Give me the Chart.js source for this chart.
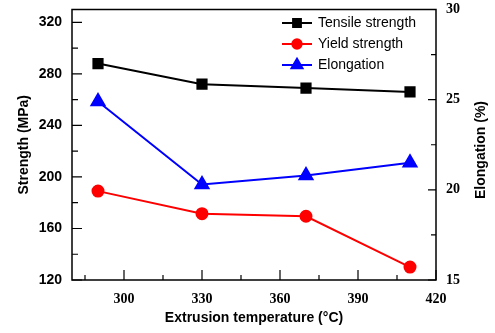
<html lang="en">
<head>
<meta charset="UTF-8">
<script src="https://cdn.jsdelivr.net/npm/chart.js"></script>
<style>
    body { margin: 0; background: #fff; }
    #wrap { width: 495px; height: 333px; }
</style>
</head>
<body>
<div id="wrap"><canvas id="extrusion"></canvas></div>
<script>
    // data
    var temperatures = [290, 330, 370, 410];
    var tensile = [288, 272, 269, 266];
    var yieldStr = [189, 171.5, 169.5, 130];
    var elongation = [24.9, 20.3, 20.8, 21.5];

    var xTicks = [300, 330, 360, 390, 420];
    var leftTicks = [120, 160, 200, 240, 280, 320];
    var rightTicks = [15, 20, 25, 30];
    var rightTitle = 'Elongation (%)';

    function pts(ys) {
        return temperatures.map(function (t, i) { return { x: t, y: ys[i] }; });
    }

    function setTicks(list) {
        return function (scale) {
            scale.ticks = list.map(function (v) { return { value: v }; });
        };
    }

    // fixed scale box sizes so the plot area sits where the figure has it
    function fitWidth(w) {
        return function (s) { s.width = w; s.paddingTop = 0; s.paddingBottom = 0; };
    }

    var sansFamily = '"Liberation Sans", Arial, sans-serif';

    // box frame, inward ticks, right title and line+marker legend
    var framePlugin = {
        id: 'frame',
        afterDatasetsDraw: function (chart) {
            var ctx = chart.ctx, a = chart.chartArea;
            var x = chart.scales.x, yl = chart.scales.y, yr = chart.scales.y1;
            ctx.save();
            ctx.strokeStyle = '#000';
            ctx.lineWidth = 1.5;
            ctx.strokeRect(a.left, a.top, a.right - a.left, a.bottom - a.top);
            ctx.lineWidth = 1.2;
            ctx.beginPath();
            xTicks.forEach(function (v) {
                var p = x.getPixelForValue(v);
                ctx.moveTo(p, a.bottom); ctx.lineTo(p, a.bottom - 10);
                var m = x.getPixelForValue(v - 15);
                ctx.moveTo(m, a.bottom); ctx.lineTo(m, a.bottom - 5);
            });
            leftTicks.forEach(function (v, i) {
                var p = yl.getPixelForValue(v);
                ctx.moveTo(a.left, p); ctx.lineTo(a.left + 10, p);
                if (i > 0) {
                    var m = yl.getPixelForValue(v - 20);
                    ctx.moveTo(a.left, m); ctx.lineTo(a.left + 6, m);
                }
            });
            rightTicks.forEach(function (v, i) {
                var p = yr.getPixelForValue(v);
                ctx.moveTo(a.right, p); ctx.lineTo(a.right - 8, p);
                if (i > 0) {
                    var m = yr.getPixelForValue(v - 2.5);
                    ctx.moveTo(a.right, m); ctx.lineTo(a.right - 5, m);
                }
            });
            ctx.stroke();

            // right axis title reads bottom to top
            ctx.save();
            ctx.translate(481, 150);
            ctx.rotate(-Math.PI / 2);
            ctx.font = 'bold 14px ' + sansFamily;
            ctx.textAlign = 'center';
            ctx.textBaseline = 'middle';
            ctx.fillStyle = '#000';
            ctx.fillText(rightTitle, 0, 0);
            ctx.restore();

            // legend
            ctx.font = '14px ' + sansFamily;
            ctx.textBaseline = 'middle';
            ctx.textAlign = 'left';
            chart.data.datasets.forEach(function (ds, i) {
                var yy = 23 + i * 21;
                ctx.strokeStyle = ds.borderColor;
                ctx.lineWidth = 2;
                ctx.beginPath();
                ctx.moveTo(282, yy); ctx.lineTo(312, yy);
                ctx.stroke();
                Chart.helpers.drawPoint(ctx, {
                    pointStyle: ds.pointStyle,
                    radius: ds.pointRadius * 0.85,
                    borderWidth: 1
                }, 297, yy);
                ctx.fillStyle = ds.borderColor;
                ctx.fill();
                ctx.fillStyle = '#000';
                ctx.fillText(ds.label, 318, yy);
            });
            ctx.restore();
        }
    };

    var sansBold = { family: sansFamily, size: 14, weight: 'bold' };
    var serifBold = { family: '"Liberation Serif", "Times New Roman", serif', size: 14, weight: 'bold' };

    new Chart(document.getElementById('extrusion'), {
        type: 'line',
        data: {
            datasets: [{
                label: 'Tensile strength',
                data: pts(tensile),
                yAxisID: 'y',
                borderColor: '#000000',
                backgroundColor: '#000000',
                pointStyle: 'rect',
                pointRadius: 6.5,
                borderWidth: 2
            }, {
                label: 'Yield strength',
                data: pts(yieldStr),
                yAxisID: 'y',
                borderColor: '#ff0000',
                backgroundColor: '#ff0000',
                pointStyle: 'circle',
                pointRadius: 5.5,
                borderWidth: 2
            }, {
                label: 'Elongation',
                data: pts(elongation),
                yAxisID: 'y1',
                borderColor: '#0000ff',
                backgroundColor: '#0000ff',
                pointStyle: 'triangle',
                pointRadius: 7.5,
                borderWidth: 2
            }]
        },
        options: {
            responsive: true,
            maintainAspectRatio: false,
            animation: false,
            layout: { padding: { top: 9, left: 0, right: 0, bottom: 0 } },
            plugins: {
                legend: { display: false },
                tooltip: { enabled: false }
            },
            scales: {
                x: {
                    type: 'linear',
                    min: 280, max: 420,
                    afterBuildTicks: setTicks(xTicks),
                    afterFit: function (s) { s.height = 53; s.paddingLeft = 0; s.paddingRight = 0; },
                    grid: { display: false, drawTicks: false },
                    border: { display: false },
                    ticks: { color: '#000', font: serifBold, padding: 11, maxRotation: 0 },
                    title: {
                        display: true, text: 'Extrusion temperature (°C)',
                        color: '#000', font: sansBold, padding: { top: 0, bottom: 6 }
                    }
                },
                y: {
                    position: 'left',
                    min: 120, max: 330,
                    afterBuildTicks: setTicks(leftTicks),
                    afterFit: fitWidth(72),
                    grid: { display: false, drawTicks: false },
                    border: { display: false },
                    ticks: { color: '#000', font: sansBold, padding: 10 },
                    title: {
                        display: true, text: 'Strength (MPa)',
                        color: '#000', font: sansBold, padding: { top: 16, bottom: 0 }
                    }
                },
                y1: {
                    position: 'right',
                    min: 15, max: 30,
                    afterBuildTicks: setTicks(rightTicks),
                    afterFit: fitWidth(59),
                    grid: { display: false, drawTicks: false },
                    border: { display: false },
                    ticks: { color: '#000', font: serifBold, padding: 10 }
                }
            }
        },
        plugins: [framePlugin]
    });
</script>
</body>
</html>
